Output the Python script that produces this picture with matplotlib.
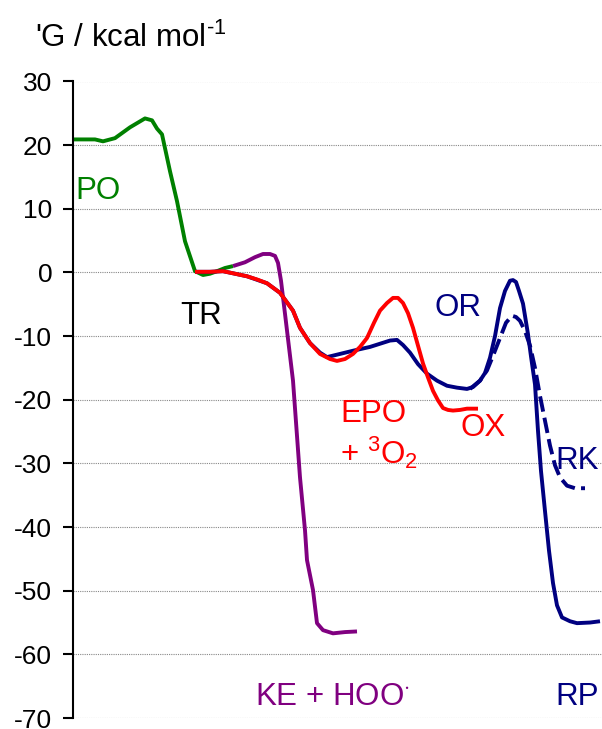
import matplotlib
matplotlib.use('Agg')
import matplotlib.pyplot as plt

plt.rcParams['font.family'] = ['Liberation Sans', 'DejaVu Sans']
plt.rcParams['mathtext.fontset'] = 'custom'
plt.rcParams['mathtext.rm'] = 'Liberation Sans'
plt.rcParams['mathtext.it'] = 'Liberation Sans'
plt.rcParams['axes.unicode_minus'] = False

# reaction coordinate (arbitrary units) and free energies (kcal/mol)
po_x = [73, 85, 95, 103, 115, 130, 145, 152, 157, 162, 170, 177, 185, 195, 203, 210, 217, 225, 233]
po_g = [20.9, 20.9, 20.9, 20.6, 21.1, 22.8, 24.2, 23.9, 22.6, 21.7, 15.9, 11.2, 4.9, 0.2, -0.4, -0.2, 0.2, 0.7, 1.0]

ke_x = [233, 245, 255, 263, 270, 275, 278, 281, 285, 293, 300, 305, 307, 313, 317, 323, 333, 345, 357]
ke_g = [1.0, 1.6, 2.4, 2.9, 2.9, 2.6, 1.5, -1.3, -6.5, -17.0, -32.2, -40.5, -45.2, -49.9, -55.1, -56.2, -56.7, -56.5, -56.4]

epo_x = [195, 210, 223, 235, 247, 257, 267, 280, 293, 300, 310, 320, 330, 337, 345, 353, 360, 367,
         374, 380, 387, 393, 398, 403, 408, 413, 418, 423, 428, 433, 438, 443, 448, 453, 460, 467, 478]
epo_g = [0.1, 0.1, 0.2, -0.2, -0.6, -1.1, -1.7, -3.2, -6.0, -8.7, -11.1, -12.8, -13.6, -13.9, -13.6, -12.8,
         -11.7, -10.3, -7.9, -6.0, -4.8, -4.0, -4.0, -4.8, -6.4, -8.7, -11.5, -14.3, -16.5, -18.6, -20.1,
         -21.3, -21.6, -21.7, -21.6, -21.4, -21.4]

rp_x = [195, 210, 223, 247, 267, 280, 293, 300, 310, 320, 327, 340, 353, 370, 390, 397, 403, 410, 418,
        427, 437, 447, 457, 467, 473, 480, 485, 490, 495, 500, 505, 510, 513, 516, 519, 523, 528, 531,
        535, 538, 541, 545, 549, 553, 557, 562, 570, 577, 590, 600]
rp_g = [0.1, 0.1, 0.2, -0.6, -1.7, -3.2, -6.0, -8.7, -11.1, -12.6, -13.3, -12.8, -12.3, -11.7, -10.7,
        -10.6, -11.4, -12.6, -14.4, -15.9, -17.0, -17.8, -18.1, -18.3, -18.0, -17.0, -15.8, -13.4, -10.0,
        -5.6, -2.9, -1.3, -1.2, -1.5, -2.9, -4.9, -9.7, -13.2, -17.6, -24.9, -31.2, -37.5, -43.7, -48.8,
        -52.3, -54.2, -54.8, -55.1, -55.0, -54.8]

rk_x = [470, 480, 487, 493, 500, 506, 512, 516, 520, 525, 530, 535, 540, 545, 550, 555, 560, 567, 575, 585]
rk_g = [-18.3, -17.0, -15.4, -13.1, -10.3, -7.9, -6.8, -7.0, -7.6, -9.2, -11.5, -15.0, -19.4, -23.3,
        -27.2, -30.3, -32.2, -33.5, -33.9, -33.9]

yticks = [30, 20, 10, 0, -10, -20, -30, -40, -50, -60, -70]

GREEN = '#008000'
PURPLE = '#800080'
RED = '#FF0000'
NAVY = '#000080'
LW = 2.8

fig = plt.figure(figsize=(6.02, 7.29), dpi=100)
ax = fig.add_axes([73 / 602, 11 / 729, 529 / 602, 636.5 / 729])

ax.plot(po_x, po_g, color=GREEN, lw=LW, solid_capstyle='butt', solid_joinstyle='round')
ax.plot(ke_x, ke_g, color=PURPLE, lw=LW, solid_capstyle='butt', solid_joinstyle='round')
ax.plot(rk_x, rk_g, color=NAVY, lw=LW, linestyle=(0, (4, 1.6)))
ax.plot(rp_x, rp_g, color=NAVY, lw=LW, solid_capstyle='butt', solid_joinstyle='round')
ax.plot(epo_x, epo_g, color=RED, lw=LW, solid_capstyle='butt', solid_joinstyle='round')

ax.set_xlim(73, 602)
ax.set_ylim(-70, 30)
ax.set_xticks([])
ax.set_yticks(yticks)
ax.tick_params(axis='y', labelsize=19, length=7, width=1.5, direction='out', pad=8)
ax.yaxis.grid(True, linestyle=(0, (1, 1)), color='#888888', linewidth=0.8)
ax.set_axisbelow(True)
for s in ['top', 'right', 'bottom']:
    ax.spines[s].set_visible(False)
ax.spines['left'].set_linewidth(1.5)

fs = 22.5
ax.text(75, 12.8, 'PO', color=GREEN, fontsize=fs, ha='left', va='center')
ax.text(180, -6.8, 'TR', color='black', fontsize=fs, ha='left', va='center')
ax.text(435, -5.6, 'OR', color=NAVY, fontsize=fs, ha='left', va='center')
ax.text(340, -22.2, 'EPO', color=RED, fontsize=fs, ha='left', va='center')
ax.text(340, -28.3, r'+ $^{3}$O$_{2}$', color=RED, fontsize=fs, ha='left', va='center')
ax.text(460, -24.5, 'OX', color=RED, fontsize=fs, ha='left', va='center')
ax.text(555, -29.6, 'RK', color=NAVY, fontsize=fs, ha='left', va='center')
ax.text(255, -66.7, r'KE + HOO$^{\cdot}$', color=PURPLE, fontsize=fs, ha='left', va='center')
ax.text(555, -66.7, 'RP', color=NAVY, fontsize=fs, ha='left', va='center')

fig.text(35 / 602, 1 - 38 / 729, r"'G / kcal mol$^{\text{-1}}$", fontsize=22.5, ha='left', va='center')

fig.savefig('out.png', dpi=100)
